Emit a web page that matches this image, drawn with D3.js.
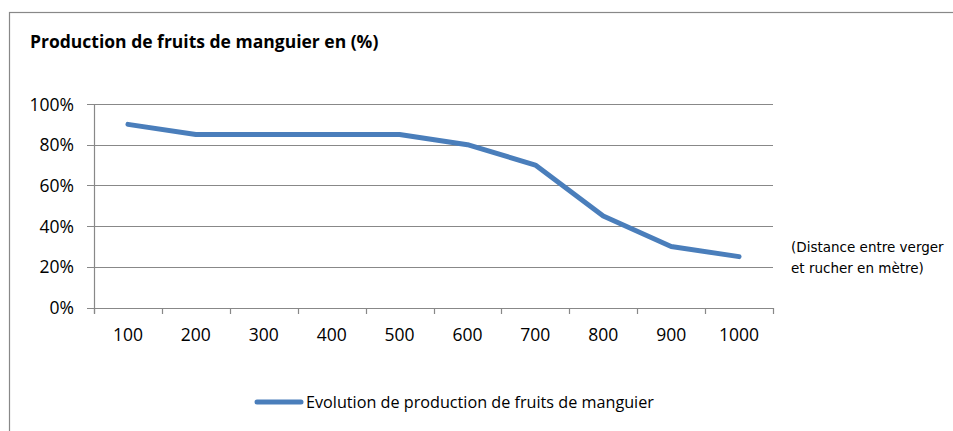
<!DOCTYPE html>
<html>
<head>
<meta charset="utf-8">
<script src="https://cdn.jsdelivr.net/npm/d3@7"></script>
<style>
  body { margin: 0; background: #fff; }
  svg { display: block; }
</style>
</head>
<body>
<div class="chart"></div>
<script>
// distances (m) and production (%)
const distances = ['100','200','300','400','500','600','700','800','900','1000'];
const production = [90, 85, 85, 85, 85, 80, 70, 45, 30, 25];
const yTicks = [0, 20, 40, 60, 80, 100];
const chartTitle = 'Production de fruits de manguier en (%)';
const seriesName = 'Evolution de production de fruits de manguier';
const axisNote = ['(Distance entre verger', 'et rucher en mètre)'];

const width = 953;
const height = 431;
const svg = d3.select('.chart')
    .append('svg')
    .attr('width', width)
    .attr('height', height);

// outer chart border (runs off the right and bottom)
svg.append('rect')
    .attr('x', 9.5).attr('y', 12.5)
    .attr('width', 1000).attr('height', 500)
    .attr('fill', 'none')
    .attr('stroke', '#888')
    .attr('stroke-width', 1.2);

svg.append('text')
    .attr('x', 30).attr('y', 48)
    .attr('font-family', 'Open Sans')
    .attr('font-weight', 'bold')
    .attr('font-size', 17.5)
    .attr('fill', '#000')
    .text(chartTitle);

const x = d3.scaleBand().domain(distances).range([94, 773]);
const y = d3.scaleLinear().domain([0, 100]).range([307.5, 104]);

// horizontal gridlines
svg.append('g')
    .selectAll('line')
    .data(yTicks)
    .enter()
    .append('line')
    .attr('x1', 87).attr('x2', 773)
    .attr('y1', d => Math.round(y(d)) + 0.5)
    .attr('y2', d => Math.round(y(d)) + 0.5)
    .attr('stroke', '#888')
    .attr('stroke-width', 1.2);

// y axis line
svg.append('line')
    .attr('x1', 94.5).attr('x2', 94.5)
    .attr('y1', y(100)).attr('y2', y(0) + 6)
    .attr('stroke', '#888')
    .attr('stroke-width', 1.2);

// x ticks at band edges
const edges = distances.map(d => x(d)).concat([x.range()[1]]);
svg.append('g')
    .selectAll('line')
    .data(edges)
    .enter()
    .append('line')
    .attr('x1', d => Math.round(d) + 0.5)
    .attr('x2', d => Math.round(d) + 0.5)
    .attr('y1', Math.round(y(0)))
    .attr('y2', Math.round(y(0)) + 6)
    .attr('stroke', '#888')
    .attr('stroke-width', 1.2);

// y labels
svg.append('g')
    .selectAll('text')
    .data(yTicks)
    .enter()
    .append('text')
    .attr('x', 74)
    .attr('y', d => y(d) + 6.5)
    .attr('text-anchor', 'end')
    .attr('font-family', 'Open Sans')
    .attr('font-size', 17.5)
    .attr('fill', '#000')
    .text(d => d + '%');

// x labels
svg.append('g')
    .selectAll('text')
    .data(distances)
    .enter()
    .append('text')
    .attr('x', d => x(d) + x.bandwidth() / 2)
    .attr('y', 341)
    .attr('text-anchor', 'middle')
    .attr('font-family', 'Open Sans')
    .attr('font-size', 17.5)
    .attr('fill', '#000')
    .text(d => d);

// the series line
const line = d3.line()
    .x((d, i) => x(distances[i]) + x.bandwidth() / 2)
    .y(d => y(d));

svg.append('path')
    .datum(production)
    .attr('d', line)
    .attr('fill', 'none')
    .attr('stroke', '#4a7ebb')
    .attr('stroke-width', 5)
    .attr('stroke-linecap', 'round')
    .attr('stroke-linejoin', 'round');

// axis title on the right
svg.append('g')
    .selectAll('text')
    .data(axisNote)
    .enter()
    .append('text')
    .attr('x', 791)
    .attr('y', (d, i) => 252 + i * 21)
    .attr('font-family', 'DejaVu Sans')
    .attr('font-size', 13.5)
    .attr('fill', '#000')
    .text(d => d);

// legend
svg.append('line')
    .attr('x1', 257).attr('x2', 301)
    .attr('y1', 402).attr('y2', 402)
    .attr('stroke', '#4a7ebb')
    .attr('stroke-width', 5)
    .attr('stroke-linecap', 'round');

svg.append('text')
    .attr('x', 306).attr('y', 408)
    .attr('font-family', 'Open Sans')
    .attr('font-size', 16.2)
    .attr('fill', '#000')
    .text(seriesName);
</script>
</body>
</html>
